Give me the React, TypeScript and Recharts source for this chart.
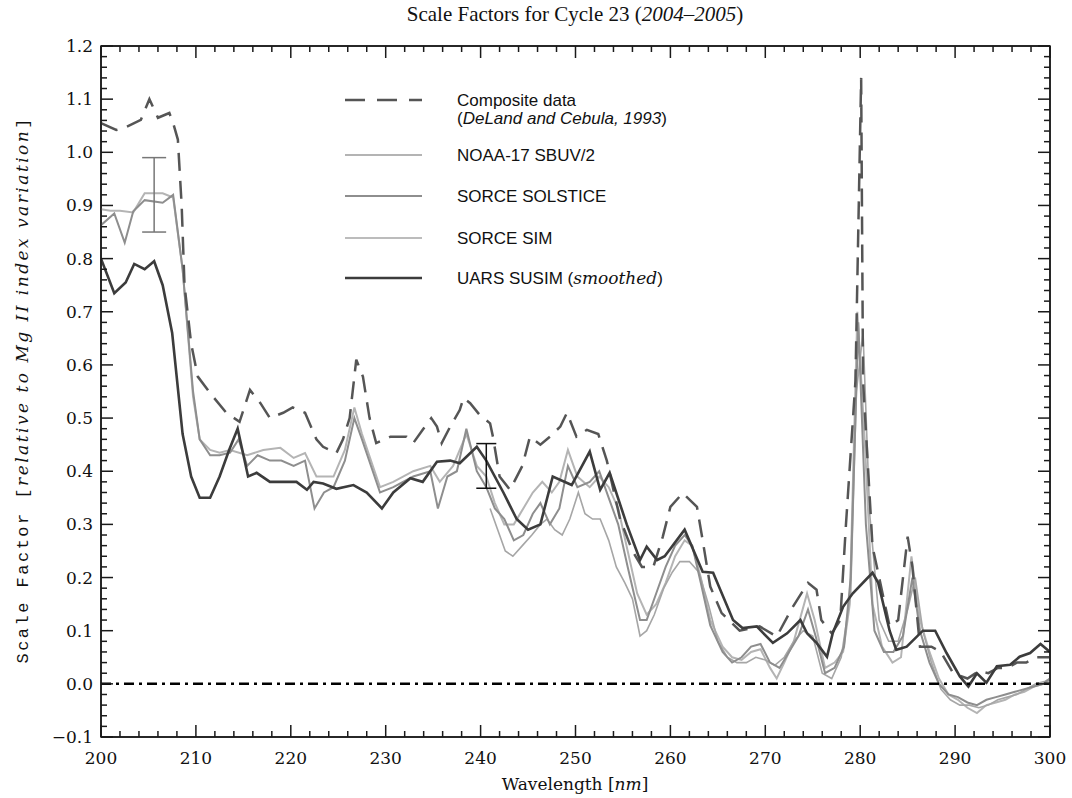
import React from 'react';
import { ComposedChart, Line, XAxis, YAxis, ReferenceLine, ReferenceArea, Scatter, ErrorBar, Legend } from 'recharts';

// ---------- data ----------
const compositeWl = [200, 201.6, 202.5, 204.2, 205.1, 206, 207.2, 207.6, 208.1, 208.5, 208.8, 209.5, 210.2, 211.5, 213.2, 214.6, 215.7, 216.8, 217.8, 219.2, 220.2, 221.5, 222.7, 223.4, 224.8, 225.5, 226.2, 226.9, 227.6, 228.3, 229, 230.5, 232.2, 232.9, 233.9, 234.8, 235.4, 235.9, 236.8, 237.8, 238.2, 238.9, 239.9, 241, 241.3, 242, 243.1, 244.4, 245.2, 246.3, 247.3, 248.4, 249.1, 250.1, 251.2, 252.4, 253.3, 254.7, 256, 257, 258.2, 259.2, 260, 261.3, 262.8, 263.4, 264.2, 265.4, 267.3, 269.4, 271.2, 272.9, 274.5, 275.4, 275.9, 277, 277.9, 278.5, 279.5, 280.1, 280.3, 281.3, 283.1, 284, 285, 285.5, 286.3, 287.5, 288.5, 289.8, 291.3, 292.5, 293.5, 294.5, 295.5, 296.5, 297.5, 298.5, 300];
const compositeVal = [1.055, 1.042, 1.046, 1.061, 1.1, 1.065, 1.074, 1.055, 1.024, 0.9, 0.75, 0.64, 0.578, 0.547, 0.51, 0.493, 0.553, 0.528, 0.5, 0.51, 0.52, 0.51, 0.46, 0.446, 0.434, 0.46, 0.5, 0.61, 0.578, 0.5, 0.453, 0.465, 0.465, 0.453, 0.478, 0.5, 0.484, 0.453, 0.484, 0.515, 0.538, 0.528, 0.506, 0.49, 0.465, 0.39, 0.365, 0.41, 0.465, 0.45, 0.465, 0.484, 0.51, 0.465, 0.478, 0.47, 0.42, 0.31, 0.25, 0.22, 0.22, 0.277, 0.333, 0.359, 0.333, 0.27, 0.183, 0.133, 0.1, 0.108, 0.089, 0.145, 0.19, 0.177, 0.12, 0.095, 0.12, 0.3, 0.57, 1.14, 0.57, 0.258, 0.108, 0.12, 0.277, 0.22, 0.07, 0.07, 0.06, 0.02, 0.01, 0.024, 0.02, 0.03, 0.03, 0.04, 0.04, 0.05, 0.05];

const noaaWl = [200, 201, 202, 203.4, 204.6, 206.5, 207.6, 208.6, 209.7, 210.4, 211.5, 212.5, 213.6, 215.4, 217.1, 218.9, 220.3, 221.5, 222.7, 224.5, 225.7, 226.7, 227.5, 229.4, 230.8, 232.9, 234.7, 235.7, 237.1, 238.5, 239.6, 240.6, 241.5, 242.5, 243.5, 244.5, 245.5, 246.5, 247.5, 248.3, 249.2, 250.2, 251.5, 252.5, 253.5, 254.5, 255.5, 256.5, 257.5, 258.5, 259.5, 260.5, 261.5, 262.3, 263.2, 264.2, 265.5, 266.5, 267.5, 268.5, 269.5, 270.5, 271.2, 272, 273, 274.4, 275.2, 276.3, 277.3, 278.2, 278.9, 279.7, 280.5, 281.3, 282.3, 283.4, 284.3, 285.4, 286.3, 287.3, 288.3, 289.3, 290.3, 291.3, 292.3, 293.3, 294.3, 295.3, 296.3, 297.3, 298.3, 299.3, 300];
const noaaVal = [0.893, 0.89, 0.89, 0.887, 0.923, 0.923, 0.915, 0.78, 0.54, 0.46, 0.44, 0.435, 0.44, 0.43, 0.44, 0.444, 0.425, 0.434, 0.39, 0.39, 0.44, 0.52, 0.47, 0.37, 0.38, 0.4, 0.41, 0.38, 0.41, 0.47, 0.41, 0.39, 0.34, 0.3, 0.3, 0.33, 0.36, 0.38, 0.36, 0.38, 0.44, 0.39, 0.37, 0.39, 0.37, 0.33, 0.25, 0.17, 0.13, 0.15, 0.19, 0.24, 0.27, 0.26, 0.2, 0.12, 0.07, 0.05, 0.045, 0.06, 0.065, 0.03, 0.01, 0.04, 0.08, 0.17, 0.12, 0.03, 0.04, 0.06, 0.15, 0.7, 0.45, 0.15, 0.07, 0.04, 0.05, 0.24, 0.12, 0.06, 0.01, -0.02, -0.03, -0.045, -0.055, -0.04, -0.035, -0.03, -0.02, -0.015, -0.005, 0.0, 0.005];

const solsticeWl = [200, 201.4, 202.5, 203.4, 204.6, 206.5, 207.6, 208.6, 209.7, 210.4, 211.5, 212.5, 213.6, 214.5, 215.4, 216.5, 217.8, 219, 220.3, 221.5, 222.5, 223.5, 224.5, 225.7, 226.7, 227.5, 229.4, 230.8, 232.9, 234.7, 235.5, 236.5, 237.5, 238.5, 239.6, 240.6, 241.5, 242.5, 243.5, 244.5, 245.5, 246.3, 247.3, 248.3, 249.2, 250.2, 251.5, 252.5, 253.5, 254.5, 255.5, 256.8, 257.5, 258.5, 259.5, 260.5, 261.5, 262.3, 263.2, 264.2, 265.5, 266.5, 267.5, 268.5, 269.5, 270.5, 271.5, 272.5, 273.5, 274.5, 275.3, 276.3, 277.3, 278.3, 279, 279.8, 280.6, 281.5, 282.5, 283.5, 284.5, 285.5, 286.3, 287.3, 288.3, 289.3, 290.3, 291.3, 292.3, 293.3, 294.3, 295.3, 296.3, 297.3, 298.3, 299.3, 300];
const solsticeVal = [0.863, 0.885, 0.83, 0.889, 0.91, 0.905, 0.92, 0.78, 0.55, 0.46, 0.43, 0.43, 0.435, 0.46, 0.41, 0.43, 0.42, 0.42, 0.41, 0.42, 0.33, 0.36, 0.37, 0.42, 0.5, 0.46, 0.36, 0.37, 0.39, 0.4, 0.33, 0.39, 0.4, 0.48, 0.4, 0.37, 0.33, 0.31, 0.27, 0.28, 0.32, 0.34, 0.3, 0.33, 0.41, 0.37, 0.38, 0.4, 0.35, 0.3, 0.22, 0.12, 0.12, 0.17, 0.22, 0.26, 0.28, 0.26, 0.19, 0.11, 0.06, 0.04, 0.05, 0.07, 0.075, 0.04, 0.03, 0.06, 0.09, 0.14, 0.09, 0.02, 0.03, 0.07, 0.2, 0.68, 0.3, 0.1, 0.06, 0.06, 0.09, 0.2, 0.1, 0.04, 0.0, -0.02, -0.025, -0.035, -0.04, -0.03, -0.025, -0.02, -0.015, -0.01, -0.005, 0.0, 0.01];

const simWl = [241, 241.8, 242.6, 243.4, 244.4, 245.4, 246.3, 247, 247.8, 248.6, 249.4, 250.3, 251, 251.8, 252.6, 253.5, 254.3, 255.2, 256, 256.8, 257.5, 258.3, 259.3, 260.2, 261, 262, 263, 264, 265, 266, 267, 268, 269, 270, 271, 272, 273, 274, 275, 276, 277, 278, 279, 279.6, 280.3, 281, 282, 283, 284, 285, 285.8, 286.6, 287.5, 288.5, 289.5, 290.5, 291.5, 292.5, 293.5, 294.5, 295.5, 296.5, 297.5, 298.5, 299.5, 300];
const simVal = [0.33, 0.29, 0.25, 0.24, 0.26, 0.28, 0.3, 0.31, 0.29, 0.28, 0.31, 0.36, 0.32, 0.31, 0.31, 0.27, 0.22, 0.19, 0.16, 0.09, 0.1, 0.13, 0.18, 0.21, 0.23, 0.23, 0.21, 0.15, 0.08, 0.05, 0.04, 0.04, 0.05, 0.045, 0.035, 0.05, 0.08, 0.1, 0.09, 0.02, 0.01, 0.05, 0.17, 0.55, 0.66, 0.32, 0.12, 0.08, 0.08, 0.14, 0.2, 0.1, 0.04, -0.01, -0.03, -0.04, -0.04, -0.045, -0.04, -0.03, -0.025, -0.02, -0.01, 0.0, 0.005, 0.01];

const susimWl = [200, 201.4, 202.6, 203.5, 204.6, 205.6, 206.5, 207.5, 208.6, 209.5, 210.4, 211.5, 212.5, 213.5, 214.4, 215.5, 216.4, 217.8, 219.2, 220.6, 221.7, 222.4, 223.4, 224.8, 226.6, 228, 229.6, 230.8, 232.6, 233.9, 235.4, 236.8, 237.8, 239.6, 240.6, 242.4, 243.8, 245, 246.3, 247.6, 249.6, 251.5, 252.6, 253.6, 255.4, 256.8, 257.5, 258.6, 259.4, 261.5, 263.4, 264.5, 266.6, 267.6, 269.1, 270.8, 272.3, 273.7, 274.4, 275.4, 276.5, 277.1, 278.2, 279.2, 281.3, 281.9, 283.1, 283.8, 284.9, 286.6, 287.9, 289.1, 290.5, 291.4, 292.3, 293.3, 294.4, 295.8, 296.8, 297.9, 299, 300];
const susimVal = [0.8, 0.735, 0.755, 0.79, 0.78, 0.795, 0.75, 0.66, 0.47, 0.39, 0.35, 0.35, 0.39, 0.44, 0.48, 0.39, 0.397, 0.38, 0.38, 0.38, 0.365, 0.38, 0.377, 0.367, 0.374, 0.36, 0.33, 0.36, 0.387, 0.38, 0.418, 0.42, 0.415, 0.446, 0.42, 0.36, 0.31, 0.29, 0.3, 0.39, 0.374, 0.437, 0.365, 0.397, 0.3, 0.233, 0.258, 0.233, 0.24, 0.29, 0.211, 0.209, 0.12, 0.105, 0.108, 0.077, 0.095, 0.12, 0.095, 0.077, 0.051, 0.095, 0.145, 0.17, 0.209, 0.19, 0.1, 0.064, 0.07, 0.1, 0.1, 0.058, 0.014, -0.005, 0.02, 0.002, 0.033, 0.036, 0.051, 0.058, 0.075, 0.06];

// error bars: wavelength, centre, half-range
const errorBarGray = [{ x: 205.6, y: 0.92, e: 0.07 }];
const errorBarBlack = [{ x: 240.6, y: 0.41, e: 0.042 }];

const xDomain = [200, 300];
const yDomain = [-0.1, 1.2];
const xMajorTicks = [200, 210, 220, 230, 240, 250, 260, 270, 280, 290, 300];
const yMajorTicks = [-0.1, 0.0, 0.1, 0.2, 0.3, 0.4, 0.5, 0.6, 0.7, 0.8, 0.9, 1.0, 1.1, 1.2];

const xAllTicks: number[] = [];
for (let i = 0; i <= 50; i++) xAllTicks.push(200 + i * 2);
const yAllTicks: number[] = [];
for (let i = 0; i <= 65; i++) yAllTicks.push(Math.round((-0.1 + i * 0.02) * 100) / 100);

const seriesNames = ['Composite data', 'NOAA-17 SBUV/2', 'SORCE SOLSTICE', 'SORCE SIM', 'UARS SUSIM'];

const toPts = (xs: number[], ys: number[]) => xs.map((x, i) => ({ x, y: ys[i] }));

// ---------- styling ----------
const C_COMP = '#555555';
const C_NOAA = '#b4b4b4';
const C_SOL = '#8e8e8e';
const C_SIM = '#a6a6a6';
const C_SUSIM = '#3c3c3c';
const AXIS = '#1a1a1a';
const AXW = 1.5;
const TICK_FONT = '"DejaVu Serif", serif';

const isMajorX = (v: number) => xMajorTicks.indexOf(v) >= 0;
const isMajorY = (v: number) => yMajorTicks.some((m) => Math.abs(m - v) < 1e-6);
const fmtY = (v: number) => (v < 0 ? '\u2212' + Math.abs(v).toFixed(1) : v.toFixed(1));

const BottomTick = (p: any) => {
  const { x, y, payload } = p;
  const major = isMajorX(payload.value);
  return (
    <g>
      <path d={`M${x},${y}V${y - (major ? 12 : 6)}`} stroke={AXIS} strokeWidth={AXW} fill="none" />
      {major && (
        <text x={x} y={y + 27} textAnchor="middle" fontFamily={TICK_FONT} fontSize={17} fill="#111">
          {payload.value}
        </text>
      )}
    </g>
  );
};
const TopTick = (p: any) => {
  const { x, y, payload } = p;
  const major = isMajorX(payload.value);
  return <path d={`M${x},${y}V${y + (major ? 12 : 6)}`} stroke={AXIS} strokeWidth={AXW} fill="none" />;
};
const LeftTick = (p: any) => {
  const { x, y, payload } = p;
  const major = isMajorY(payload.value);
  return (
    <g>
      <path d={`M${x},${y}H${x + (major ? 12 : 6)}`} stroke={AXIS} strokeWidth={AXW} fill="none" />
      {major && (
        <text x={x - 8} y={y + 6} textAnchor="end" fontFamily={TICK_FONT} fontSize={17} fill="#111">
          {fmtY(payload.value)}
        </text>
      )}
    </g>
  );
};
const RightTick = (p: any) => {
  const { x, y, payload } = p;
  const major = isMajorY(payload.value);
  return <path d={`M${x},${y}H${x - (major ? 12 : 6)}`} stroke={AXIS} strokeWidth={AXW} fill="none" />;
};

const LegendBox = () => {
  const sx1 = 15;
  const sx2 = 92;
  const tx = 127;
  const font = '"Liberation Sans", Arial, sans-serif';
  const rows = [
    { y: 15, stroke: C_COMP, w: 2.5, dash: '20 12' },
    { y: 70, stroke: C_NOAA, w: 2, dash: undefined },
    { y: 111, stroke: C_SOL, w: 2, dash: undefined },
    { y: 153, stroke: C_SIM, w: 1.6, dash: undefined },
    { y: 193, stroke: C_SUSIM, w: 2.6, dash: undefined },
  ];
  return (
    <svg width={420} height={215} style={{ display: 'block' }}>
      {rows.map((r, i) => (
        <line key={i} x1={sx1} x2={sx2} y1={r.y} y2={r.y} stroke={r.stroke} strokeWidth={r.w} strokeDasharray={r.dash} />
      ))}
      <text x={tx} y={rows[0].y + 6} fontFamily={font} fontSize={17} fill="#111">{seriesNames[0]}</text>
      <text x={tx} y={rows[0].y + 24} fontFamily={font} fontSize={17} fill="#111">
        (<tspan fontStyle="italic">DeLand and Cebula, 1993</tspan>)
      </text>
      <text x={tx} y={rows[1].y + 6} fontFamily={font} fontSize={17} fill="#111">{seriesNames[1]}</text>
      <text x={tx} y={rows[2].y + 6} fontFamily={font} fontSize={17} fill="#111">{seriesNames[2]}</text>
      <text x={tx} y={rows[3].y + 6} fontFamily={font} fontSize={17} fill="#111">{seriesNames[3]}</text>
      <text x={tx} y={rows[4].y + 6} fontFamily={font} fontSize={17} fill="#111">
        {seriesNames[4]} (<tspan fontStyle="italic" fontFamily='"DejaVu Serif", serif'>smoothed</tspan>)
      </text>
    </svg>
  );
};

const emptyShape = () => <g />;

export default function App() {
  const W = 1072;
  const H = 798;
  const axisLineStyle = { stroke: AXIS, strokeWidth: AXW };
  return (
    <div style={{ position: 'absolute', left: 0, top: 0, width: W, height: H, background: '#fff' }}>
      <ComposedChart width={W} height={H} margin={{ top: 45, right: 21, left: 0, bottom: 0 }}>
        <XAxis xAxisId="x" dataKey="x" type="number" domain={xDomain} allowDataOverflow ticks={xAllTicks} interval={0}
          orientation="bottom" height={61} tickLine={false} tickSize={0} tickMargin={0} tick={BottomTick}
          axisLine={axisLineStyle} />
        <XAxis xAxisId="top" dataKey="x" type="number" domain={xDomain} allowDataOverflow ticks={xAllTicks} interval={0}
          orientation="top" height={1} tickLine={false} tickSize={0} tickMargin={0} tick={TopTick}
          axisLine={axisLineStyle} />
        <YAxis yAxisId="y" type="number" domain={yDomain} allowDataOverflow ticks={yAllTicks} interval={0}
          orientation="left" width={101} tickLine={false} tickSize={0} tickMargin={0} tick={LeftTick}
          axisLine={axisLineStyle} />
        <YAxis yAxisId="right" type="number" domain={yDomain} allowDataOverflow ticks={yAllTicks} interval={0}
          orientation="right" width={1} tickLine={false} tickSize={0} tickMargin={0} tick={RightTick}
          axisLine={axisLineStyle} />

        <ReferenceArea xAxisId="x" yAxisId="y" x1={xDomain[0]} x2={xDomain[1]} y1={yDomain[0]} y2={yDomain[1]}
          fill="none" fillOpacity={0} stroke={AXIS} strokeWidth={AXW} ifOverflow="visible" />

        <Line xAxisId="x" yAxisId="y" data={toPts(noaaWl, noaaVal)} dataKey="y" name={seriesNames[1]} type="linear"
          stroke={C_NOAA} strokeWidth={2} dot={false} isAnimationActive={false} />
        <Line xAxisId="x" yAxisId="y" data={toPts(simWl, simVal)} dataKey="y" name={seriesNames[3]} type="linear"
          stroke={C_SIM} strokeWidth={1.6} dot={false} isAnimationActive={false} />
        <Line xAxisId="x" yAxisId="y" data={toPts(solsticeWl, solsticeVal)} dataKey="y" name={seriesNames[2]} type="linear"
          stroke={C_SOL} strokeWidth={2} dot={false} isAnimationActive={false} />
        <Line xAxisId="x" yAxisId="y" data={toPts(compositeWl, compositeVal)} dataKey="y" name={seriesNames[0]} type="linear"
          stroke={C_COMP} strokeWidth={2.5} strokeDasharray="18 10" dot={false} isAnimationActive={false} />
        <Line xAxisId="x" yAxisId="y" data={toPts(susimWl, susimVal)} dataKey="y" name={seriesNames[4]} type="linear"
          stroke={C_SUSIM} strokeWidth={2.6} dot={false} isAnimationActive={false} />

        <Scatter xAxisId="x" yAxisId="y" data={errorBarGray} dataKey="y" shape={emptyShape} isAnimationActive={false} legendType="none">
          <ErrorBar dataKey="e" direction="y" width={12} stroke="#777" strokeWidth={1.5} isAnimationActive={false} />
        </Scatter>
        <Scatter xAxisId="x" yAxisId="y" data={errorBarBlack} dataKey="y" shape={emptyShape} isAnimationActive={false} legendType="none">
          <ErrorBar dataKey="e" direction="y" width={10} stroke="#111" strokeWidth={1.5} isAnimationActive={false} />
        </Scatter>

        <ReferenceLine xAxisId="x" yAxisId="y" y={0} stroke="#000" strokeWidth={2.5} strokeDasharray="10 5 3 5" />

        <Legend layout="vertical" align="center" verticalAlign="middle" content={LegendBox}
          wrapperStyle={{ position: 'absolute', left: 330, top: 85, width: 420, height: 215 }} />
      </ComposedChart>

      <svg width={W} height={H} style={{ position: 'absolute', left: 0, top: 0, pointerEvents: 'none' }}>
        <text x={575} y={21} textAnchor="middle" fontFamily='"Liberation Serif", serif' fontSize={21} fill="#111">
          Scale Factors for Cycle 23 (<tspan fontStyle="italic">2004{'\u2013'}2005</tspan>)
        </text>
        <text x={575} y={790} textAnchor="middle" fontFamily={TICK_FONT} fontSize={17} fill="#111">
          Wavelength [<tspan fontStyle="italic">nm</tspan>]
        </text>
        <text x={0} y={0} transform="translate(28 391) rotate(-90)" textAnchor="middle"
          fontFamily='"Liberation Mono", monospace' fontSize={17} fill="#111" textLength={545} lengthAdjust="spacing">
          Scale Factor [<tspan fontStyle="italic" fontFamily='"DejaVu Serif", serif'>relative to Mg II index variation</tspan>]
        </text>
      </svg>
    </div>
  );
}
